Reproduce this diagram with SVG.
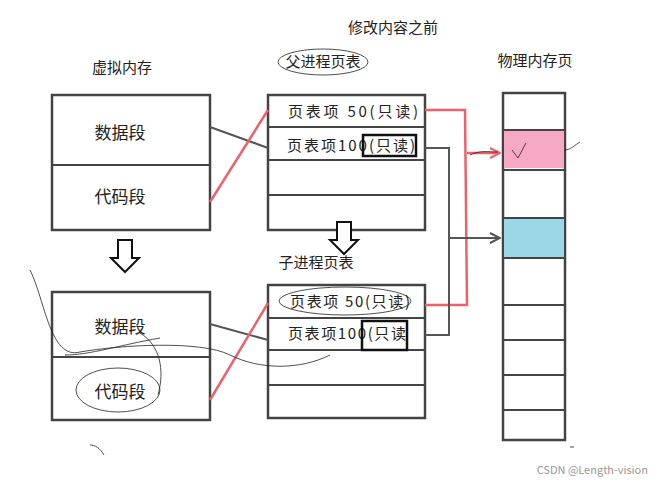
<svg xmlns="http://www.w3.org/2000/svg" width="654" height="486" viewBox="0 0 654 486">
<defs>
<style>
text{font-family:"Noto Sans CJK SC","Liberation Sans",sans-serif;fill:#222}
.t{font-size:15px}
.box{fill:#fff;stroke:#444;stroke-width:2.5}
.row{stroke:#444;stroke-width:2}
.dk{fill:none;stroke:#555;stroke-width:2}
.rd{fill:none;stroke:#f0606a;stroke-width:2.5}
.thin{fill:none;stroke:#222;stroke-width:0.8}
.hb{fill:none;stroke:#111;stroke-width:2.5}
</style>
<marker id="ch" viewBox="0 0 12 12" refX="11" refY="6" markerWidth="12" markerHeight="12" markerUnits="userSpaceOnUse" orient="auto"><path d="M1,1 L11,6 L1,11" fill="none" stroke="#555" stroke-width="2"/></marker>
<marker id="chr" viewBox="0 0 12 12" refX="11" refY="6" markerWidth="12" markerHeight="12" markerUnits="userSpaceOnUse" orient="auto"><path d="M1,1 L11,6 L1,11" fill="none" stroke="#f0606a" stroke-width="2"/></marker>
</defs>
<rect width="654" height="486" fill="#fff"/>
<text x="393" y="33" class="t" text-anchor="middle">修改内容之前</text>
<text x="122" y="73" class="t" text-anchor="middle">虚拟内存</text>
<text x="323" y="67" class="t" text-anchor="middle">父进程页表</text>
<ellipse cx="323" cy="62" rx="45" ry="13" class="thin"/>
<text x="535" y="66" class="t" text-anchor="middle">物理内存页</text>
<text x="316" y="268" class="t" text-anchor="middle">子进程页表</text>
<g id="vm1"><rect x="52" y="95" width="158" height="135" class="box"/><line x1="52" y1="165" x2="210" y2="165" class="row"/>
<text x="120" y="139" font-size="17" text-anchor="middle">数据段</text><text x="120" y="203" font-size="17" text-anchor="middle">代码段</text></g>
<g id="vm2"><rect x="52" y="292" width="158" height="128" class="box"/><line x1="52" y1="357" x2="210" y2="357" class="row"/>
<text x="120" y="333" font-size="17" text-anchor="middle">数据段</text><text x="120" y="398" font-size="17" text-anchor="middle">代码段</text></g>
<g id="pt1"><rect x="268" y="95" width="157" height="135" class="box"/>
<line x1="268" y1="127" x2="425" y2="127" class="row"/><line x1="268" y1="160" x2="425" y2="160" class="row"/><line x1="268" y1="195" x2="425" y2="195" class="row"/>
<text x="288" y="117" class="t" textLength="130" lengthAdjust="spacing">页表项 50(只读)</text><text x="287" y="151" class="t" textLength="128" lengthAdjust="spacing">页表项100(只读)</text>
<rect x="363" y="135" width="53" height="21" class="hb"/></g>
<g id="pt2"><rect x="268" y="285" width="157" height="133" class="box"/>
<line x1="268" y1="318" x2="425" y2="318" class="row"/><line x1="268" y1="350" x2="425" y2="350" class="row"/><line x1="268" y1="385" x2="425" y2="385" class="row"/>
<text x="290" y="307" class="t" textLength="120" lengthAdjust="spacing">页表项 50(只读)</text><text x="288" y="339" class="t" textLength="118" lengthAdjust="spacing">页表项100(只读</text>
<rect x="362" y="321" width="45" height="29" class="hb"/>
<ellipse cx="345" cy="301" rx="66" ry="14" class="thin"/></g>
<g id="phys"><rect x="503" y="93" width="62" height="347" class="box"/>
<rect x="504" y="130" width="60" height="38" fill="#f7a8c4"/><rect x="504" y="218" width="60" height="39" fill="#9ad8e8"/>
<g class="row"><line x1="503" y1="130" x2="565" y2="130"/><line x1="503" y1="170" x2="565" y2="170"/><line x1="503" y1="218" x2="565" y2="218"/><line x1="503" y1="258" x2="565" y2="258"/><line x1="503" y1="305" x2="565" y2="305"/><line x1="503" y1="340" x2="565" y2="340"/><line x1="503" y1="375" x2="565" y2="375"/><line x1="503" y1="410" x2="565" y2="410"/></g>
<path d="M512,150 L518,158 L526,143" class="thin"/></g>
<g id="connectors">
<line x1="210" y1="127" x2="268" y2="148" class="dk"/>
<line x1="210" y1="202" x2="268" y2="110" class="rd"/>
<line x1="210" y1="324" x2="268" y2="340" class="dk"/>
<line x1="210" y1="400" x2="268" y2="303" class="rd"/>
<path d="M425,110 L465,110 L467,305 L425,305" class="rd"/>
<path d="M467,153 L500,153" class="rd" marker-end="url(#chr)"/>
<path d="M425,148 L449,148 L449,335 L425,335" class="dk"/>
<path d="M449,238 L500,238" class="dk" marker-end="url(#ch)"/>
<path d="M118,240 h14 v18 h7 l-14,14 l-14,-14 h7 z" fill="#fff" stroke="#111" stroke-width="2"/>
<path d="M337,222 h14 v18 h7 l-14,14 l-14,-14 h7 z" fill="#fff" stroke="#111" stroke-width="2"/>
</g>
<g id="scribbles" class="thin">
<path d="M30,270 C45,300 50,360 80,352 C120,345 200,340 230,355 C260,370 300,370 330,355"/>
<path d="M65,355 C90,355 120,345 160,338"/>
<path d="M140,333 C160,345 165,370 158,395"/>
<ellipse cx="118" cy="390" rx="42" ry="22"/>
<path d="M470,155 C480,150 488,152 498,152"/>
<path d="M565,150 C570,150 575,145 580,142"/>
<path d="M90,445 C95,445 100,448 104,455"/>
<path d="M570,447 L574,447"/>
</g>
<text x="648" y="474" font-size="11" style="fill:#999" text-anchor="end">CSDN @Length-vision</text>
</svg>
